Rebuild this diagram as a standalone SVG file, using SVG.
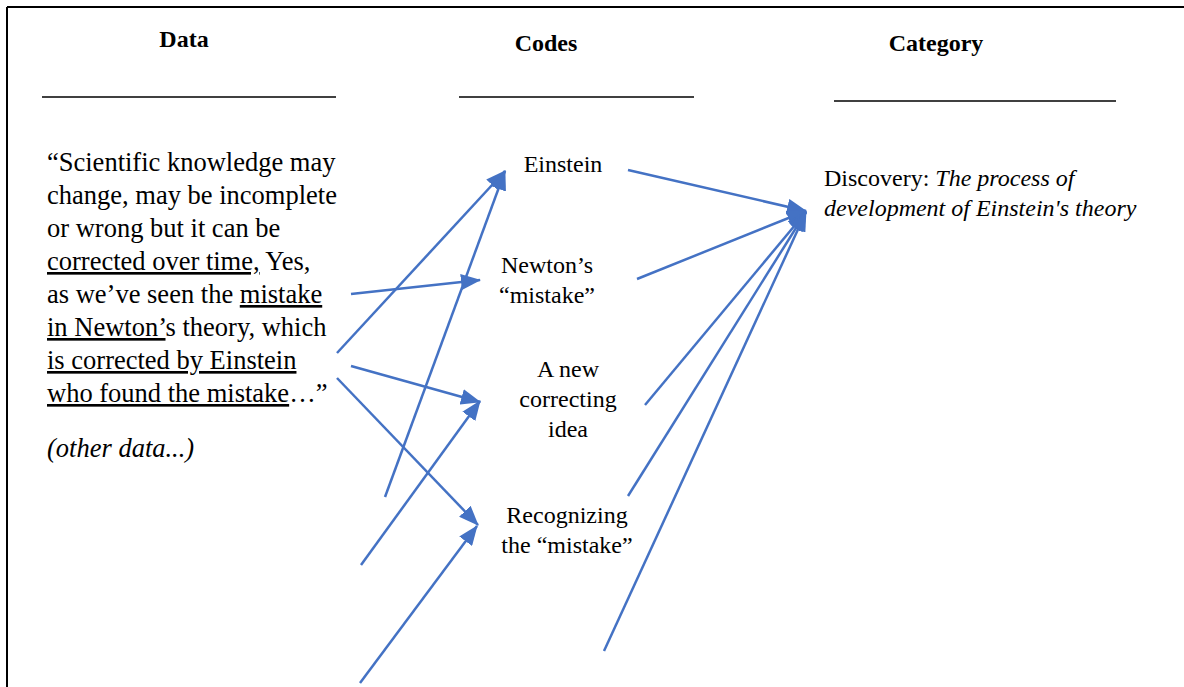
<svg xmlns="http://www.w3.org/2000/svg" width="1184" height="687" viewBox="0 0 1184 687" font-family="Liberation Serif, serif">
<defs>
<style>
text{font-family:'Liberation Serif',serif;fill:#000}
.hd{font-weight:bold;font-size:24px;text-anchor:middle}
.body{font-size:26.5px}
.code{font-size:24px;text-anchor:middle}
.cat{font-size:24px}
.it{font-style:italic}
.u{text-decoration:underline}
.rule{stroke:#000;stroke-width:1.5}
.conn line{stroke:#4472C4;stroke-width:2.5;fill:none;marker-end:url(#arr)}
</style>
<marker id="arr" markerUnits="userSpaceOnUse" markerWidth="20" markerHeight="16" viewBox="0 0 20 16" refX="19" refY="8" orient="auto">
<path d="M0,0 L20,8 L0,16 Z" fill="#4472C4"/>
</marker>
</defs>
<rect width="1184" height="687" fill="#fff"/>
<g id="frame">
<line x1="7" y1="7" x2="1184" y2="7" stroke="#000" stroke-width="2"/>
<line x1="7" y1="7" x2="7" y2="687" stroke="#000" stroke-width="2"/>
</g>
<g id="headers">
<text class="hd" x="184" y="47">Data</text>
<line class="rule" x1="42" y1="97" x2="336" y2="97"/>
<text class="hd" x="546" y="51">Codes</text>
<line class="rule" x1="459" y1="97" x2="694" y2="97"/>
<text class="hd" x="936" y="51">Category</text>
<line class="rule" x1="834" y1="101" x2="1116" y2="101"/>
</g>
<g id="data">
<text class="body" x="47" y="171">“Scientific knowledge may</text>
<text class="body" x="47" y="204">change, may be incomplete</text>
<text class="body" x="47" y="237">or wrong but it can be</text>
<text class="body" x="47" y="270"><tspan class="u">corrected over time,</tspan> Yes,</text>
<text class="body" x="47" y="303">as we’ve seen the <tspan class="u">mistake</tspan></text>
<text class="body" x="47" y="336"><tspan class="u">in Newton’</tspan>s theory, which</text>
<text class="body" x="47" y="369"><tspan class="u">is corrected by Einstein</tspan></text>
<text class="body" x="47" y="402"><tspan class="u">who found the mistake</tspan>…”</text>
<text class="body it" x="47" y="457">(other data...)</text>
</g>
<g id="code-einstein">
<text class="code" x="563" y="172">Einstein</text>
</g>
<g id="code-newton">
<text class="code" x="547" y="273">Newton’s</text>
<text class="code" x="547" y="303">“mistake”</text>
</g>
<g id="code-idea">
<text class="code" x="568" y="377">A new</text>
<text class="code" x="568" y="407">correcting</text>
<text class="code" x="568" y="437">idea</text>
</g>
<g id="code-recognizing">
<text class="code" x="567" y="523">Recognizing</text>
<text class="code" x="567" y="553">the “mistake”</text>
</g>
<g id="category">
<text class="cat" x="824" y="186">Discovery: <tspan class="it">The process of</tspan></text>
<text class="cat it" x="824" y="216">development of Einstein's theory</text>
</g>
<g id="connectors" class="conn">
<line x1="337" y1="353" x2="505" y2="171"/>
<line x1="385" y1="497" x2="505" y2="171"/>
<line x1="351" y1="294" x2="480" y2="280"/>
<line x1="351" y1="366" x2="480" y2="402"/>
<line x1="361" y1="565" x2="480" y2="401"/>
<line x1="337" y1="378" x2="478" y2="525"/>
<line x1="360" y1="683" x2="477" y2="526"/>
<line x1="628" y1="170" x2="806" y2="211"/>
<line x1="637" y1="279" x2="806" y2="211"/>
<line x1="645" y1="405" x2="806" y2="212"/>
<line x1="628" y1="496" x2="806" y2="212"/>
<line x1="604" y1="651" x2="806" y2="212"/>
</g>
</svg>
